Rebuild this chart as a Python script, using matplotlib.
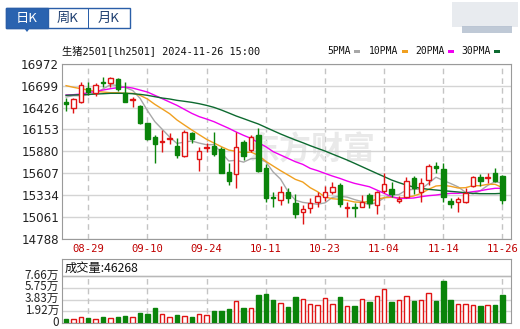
import numpy as np
import matplotlib.pyplot as plt
import matplotlib.transforms as mtransforms
from matplotlib.patches import Rectangle, Polygon

W, H = 520, 329

# x-axis labels (candle index -> date)
date_labels = ['08-29', '09-10', '09-24', '10-11', '10-23', '11-04', '11-14', '11-26']
date_pos = [3, 11, 19, 27, 35, 43, 51, 59]

# daily candles 08-26 .. 11-26
opens = [16500, 16417, 16492, 16667, 16605, 16742, 16730, 16784, 16613, 16521,
         16446, 16229, 16062, 16000, 16029, 15945, 15824, 16104, 15779, 15925,
         15945, 15904, 15624, 15591, 16000, 15895, 16083, 15666, 15311, 15270,
         15374, 15228, 15115, 15165, 15249, 15311, 15374, 15457, 15165, 15186,
         15186, 15332, 15207, 15386, 15403, 15261, 15311, 15541, 15374, 15520,
         15695, 15658, 15261, 15240, 15249, 15445, 15553, 15545, 15603, 15570]
highs = [16542, 16542, 16751, 16751, 16730, 16805, 16813, 16792, 16742, 16563,
         16459, 16238, 16083, 16146, 16104, 16041, 16146, 16125, 15937, 15987,
         16125, 15937, 15729, 16125, 16021, 16083, 16167, 15724, 15374, 15445,
         15424, 15345, 15207, 15290, 15374, 15445, 15499, 15478, 15249, 15228,
         15332, 15353, 15382, 15603, 15499, 15320, 15562, 15570, 15541, 15716,
         15749, 15737, 15290, 15303, 15416, 15570, 15591, 15603, 15666, 15582]
lows = [16384, 16363, 16480, 16584, 16575, 16680, 16680, 16638, 16492, 16438,
        16221, 16021, 15729, 15875, 15970, 15791, 15812, 15979, 15637, 15875,
        15820, 15603, 15457, 15416, 15770, 15875, 15624, 15245, 15186, 15207,
        15228, 15040, 14969, 15103, 15186, 15261, 15345, 15186, 15061, 15053,
        15178, 15165, 15094, 15353, 15311, 15228, 15290, 15345, 15249, 15457,
        15612, 15249, 15165, 15124, 15236, 15436, 15445, 15487, 15499, 15220]
closes = [16467, 16534, 16709, 16617, 16709, 16730, 16801, 16659, 16492, 16530,
          16238, 16033, 15966, 16012, 16041, 15833, 16125, 16029, 15883, 15937,
          15845, 15612, 15512, 15929, 15820, 16062, 15637, 15290, 15290, 15374,
          15290, 15094, 15153, 15228, 15320, 15374, 15436, 15220, 15178, 15165,
          15249, 15228, 15374, 15466, 15345, 15278, 15512, 15416, 15487, 15695,
          15666, 15311, 15220, 15278, 15361, 15562, 15507, 15553, 15512, 15270]
volumes = [7060, 6000, 10300, 7600, 7060, 10300, 7600, 9200, 11950, 9200,
           15750, 14100, 23900, 15200, 10300, 12500, 11950, 9200, 15200, 12500,
           19000, 19000, 22250, 35300, 23900, 23900, 45000, 46700, 36900, 33100,
           26000, 41800, 39600, 31500, 29900, 41300, 31500, 41800, 27150, 28200,
           39600, 33700, 44500, 55900, 33700, 36900, 44500, 35300, 36900, 49400,
           35300, 67900, 36900, 31500, 31500, 29900, 27150, 28800, 28800, 46268]

# moving average lines
ma5 = [16559, 16575, 16575, 16584, 16607, 16660, 16713, 16703, 16678, 16641,
       16543, 16389, 16251, 16155, 16058, 15977, 15996, 16008, 15982, 15961,
       15964, 15861, 15758, 15767, 15744, 15787, 15792, 15748, 15620, 15531,
       15376, 15268, 15240, 15228, 15217, 15234, 15302, 15316, 15306, 15275,
       15250, 15208, 15239, 15296, 15332, 15338, 15395, 15403, 15407, 15477,
       15555, 15515, 15476, 15434, 15367, 15346, 15386, 15452, 15499, 15481]
ma10 = [16701, 16680, 16663, 16646, 16630, 16621, 16613, 16613, 16605, 16605,
        16580, 16534, 16467, 16409, 16350, 16271, 16208, 16146, 16087, 16029,
        15983, 15937, 15895, 15879, 15862, 15870, 15829, 15754, 15695, 15637,
        15583, 15528, 15495, 15424, 15374, 15307, 15286, 15278, 15265, 15245,
        15240, 15253, 15278, 15299, 15303, 15295, 15303, 15320, 15353, 15403,
        15445, 15453, 15441, 15420, 15424, 15449, 15449, 15466, 15466, 15424]
ma20 = [16584, 16588, 16596, 16613, 16630, 16646, 16663, 16676, 16684, 16671,
        16646, 16621, 16580, 16538, 16496, 16454, 16404, 16354, 16313, 16283,
        16250, 16208, 16167, 16121, 16079, 16041, 15987, 15937, 15875, 15833,
        15791, 15749, 15716, 15666, 15637, 15603, 15570, 15541, 15507, 15478,
        15457, 15436, 15395, 15353, 15311, 15290, 15290, 15295, 15311, 15324,
        15332, 15345, 15353, 15353, 15361, 15374, 15386, 15403, 15416, 15416]
ma30 = [16580, 16584, 16588, 16592, 16596, 16600, 16605, 16605, 16605, 16600,
        16592, 16580, 16563, 16546, 16534, 16517, 16505, 16492, 16475, 16454,
        16429, 16396, 16359, 16321, 16288, 16254, 16221, 16179, 16137, 16096,
        16058, 16021, 15987, 15950, 15916, 15883, 15845, 15808, 15770, 15729,
        15687, 15645, 15603, 15562, 15520, 15487, 15457, 15432, 15416, 15403,
        15395, 15386, 15378, 15370, 15361, 15353, 15349, 15349, 15349, 15353]

price_ticks = [14788, 15061, 15334, 15607, 15880, 16153, 16426, 16699, 16972]
vol_ticks = [0, 19150, 38300, 57450, 76600]
vol_tick_labels = ['0', '1.92万', '3.83万', '5.75万', '7.66万']

RED = '#e01414'
GREEN = '#0a840a'
GRID = '#d4d4d4'
FRAME = '#9a9a9a'
CJK = ['Noto Sans CJK SC', 'DejaVu Sans']
MONO = ['DejaVu Sans Mono', 'Noto Sans CJK SC']


def fx(px):
    return px / W


def fy(py):
    return 1 - py / H


def prect(x0, y0, x1, y1, **kw):
    # rectangle in pixel coords (y downwards)
    fig.add_artist(Rectangle((fx(x0), fy(y1)), (x1 - x0) / W, (y1 - y0) / H,
                             transform=fig.transFigure, **kw))


fig = plt.figure(figsize=(W / 100, H / 100), dpi=100)

# ---- tabs -------------------------------------------------------------
prect(6, 8, 130, 28, facecolor='white', edgecolor='#2a5ea8', lw=1)
prect(6, 8, 48, 28, facecolor='#2a63b0', edgecolor='#2a5ea8', lw=1)
prect(88, 8, 88.5, 28, facecolor='#2a5ea8', lw=0)
fig.add_artist(Polygon([(fx(24), fy(28)), (fx(30), fy(28)), (fx(27), fy(32))],
                       closed=True, transform=fig.transFigure,
                       facecolor='#2a63b0', lw=0))
for cx, txt, col in [(27, '日K', 'white'), (68, '周K', '#1f3f70'), (109, '月K', '#1f3f70')]:
    fig.text(fx(cx), fy(18.5), txt, ha='center', va='center', fontsize=9.5,
             color=col, family=CJK)

# blurred logo at top right
prect(452, 2, 518, 27, facecolor='#e6e9ee', lw=0, alpha=0.9)
prect(462, 26, 512, 33, facecolor='#b0bccc', lw=0, alpha=0.8)

# ---- title and legend ---------------------------------------------------
fig.text(fx(62), fy(51), '生猪2501[lh2501] 2024-11-26 15:00', ha='left',
         va='center', fontsize=7.4, family=MONO, color='#111111')
legend = [('5PMA', 327, 354, '#a8a8a8'), ('10PMA', 369, 402, '#f0a020'),
          ('20PMA', 415, 448, '#f000f0'), ('30PMA', 461, 494, '#0d6a30')]
for name, tx, bx, col in legend:
    fig.text(fx(tx), fy(51), name, ha='left', va='center', fontsize=7,
             family=MONO, color='#111111')
    prect(bx, 50, bx + 6, 53, facecolor=col, lw=0)

# ---- price axes ---------------------------------------------------------
ax = fig.add_axes([fx(62), fy(238.5), (511 - 62) / W, (238.5 - 64) / H])
x = np.arange(len(closes))
o = np.array(opens)
c = np.array(closes)
up = c >= o
cols = np.where(up, RED, GREEN)

ax.text(33.1, 15890, '东方财富', ha='center', va='center', fontsize=23,
        fontweight='bold', color='#e9e9e9', family=CJK, zorder=1)

ax.plot(x, ma5, color='#a8a8a8', lw=1, zorder=2)
ax.plot(x, ma10, color='#f0a020', lw=1, zorder=2)
ax.plot(x, ma20, color='#f000f0', lw=1, zorder=2)
ax.plot(x, ma30, color='#0d6a30', lw=1, zorder=2)

ax.vlines(x, lows, highs, colors=cols, lw=1, zorder=3)
body_h = np.maximum(np.abs(c - o), 4)
ax.bar(x, body_h, 0.6, bottom=np.minimum(o, c),
       facecolor=np.where(up, 'white', GREEN), edgecolor=cols, lw=1, zorder=4)

ax.set_xlim(-0.55, 60.15)
ax.set_ylim(14788, 16972)
ax.set_yticks(price_ticks)
ax.set_yticklabels([str(v) for v in price_ticks])
ax.set_xticks(date_pos)
ax.set_xticklabels(date_labels, family=MONO, fontsize=7.6)
ax.tick_params(axis='y', length=0, pad=2, labelsize=8.6, labelcolor='#222222')
ax.tick_params(axis='x', length=0, pad=4, labelcolor='#c00000')
ax.grid(axis='y', color=GRID, lw=1, zorder=0)
for p in date_pos:
    ax.axvline(p, color='#c4c4c4', lw=1, ls=(0, (4, 3)), zorder=0)
for s in ax.spines.values():
    s.set_color(FRAME)

# ---- volume axes -------------------------------------------------------
axv = fig.add_axes([fx(62), fy(323), (511 - 62) / W, (323 - 259) / H])
v = np.array(volumes)
axv.bar(x, v, 0.6, facecolor=np.where(up, 'white', GREEN), edgecolor=cols,
        lw=1, zorder=3)
axv.set_xlim(-0.55, 60.15)
axv.set_ylim(0, 76600 * 64 / 47)
axv.set_yticks(vol_ticks)
axv.set_yticklabels(vol_tick_labels, family=CJK)
axv.set_xticks([])
axv.tick_params(axis='y', length=0, pad=2, labelsize=8.4, labelcolor='#222222')
shift = mtransforms.ScaledTranslation(0, 2.5 / 100, fig.dpi_scale_trans)
for lab in axv.get_yticklabels():
    lab.set_transform(lab.get_transform() + shift)
for t in vol_ticks[1:]:
    axv.axhline(t, color=GRID, lw=1, zorder=0)
axv.axhline(vol_ticks[-1], color='#b8b8b8', lw=1, zorder=1)
for p in date_pos:
    axv.vlines(p, 0, vol_ticks[-1], color='#c4c4c4', lw=1, ls=(0, (4, 3)), zorder=0)
for s in axv.spines.values():
    s.set_color(FRAME)
axv.text(0.005, 0.86, '成交量:' + str(volumes[-1]), transform=axv.transAxes,
         ha='left', va='center', fontsize=8.8, family=CJK, color='#111111')

fig.savefig('out.png', dpi=100)
